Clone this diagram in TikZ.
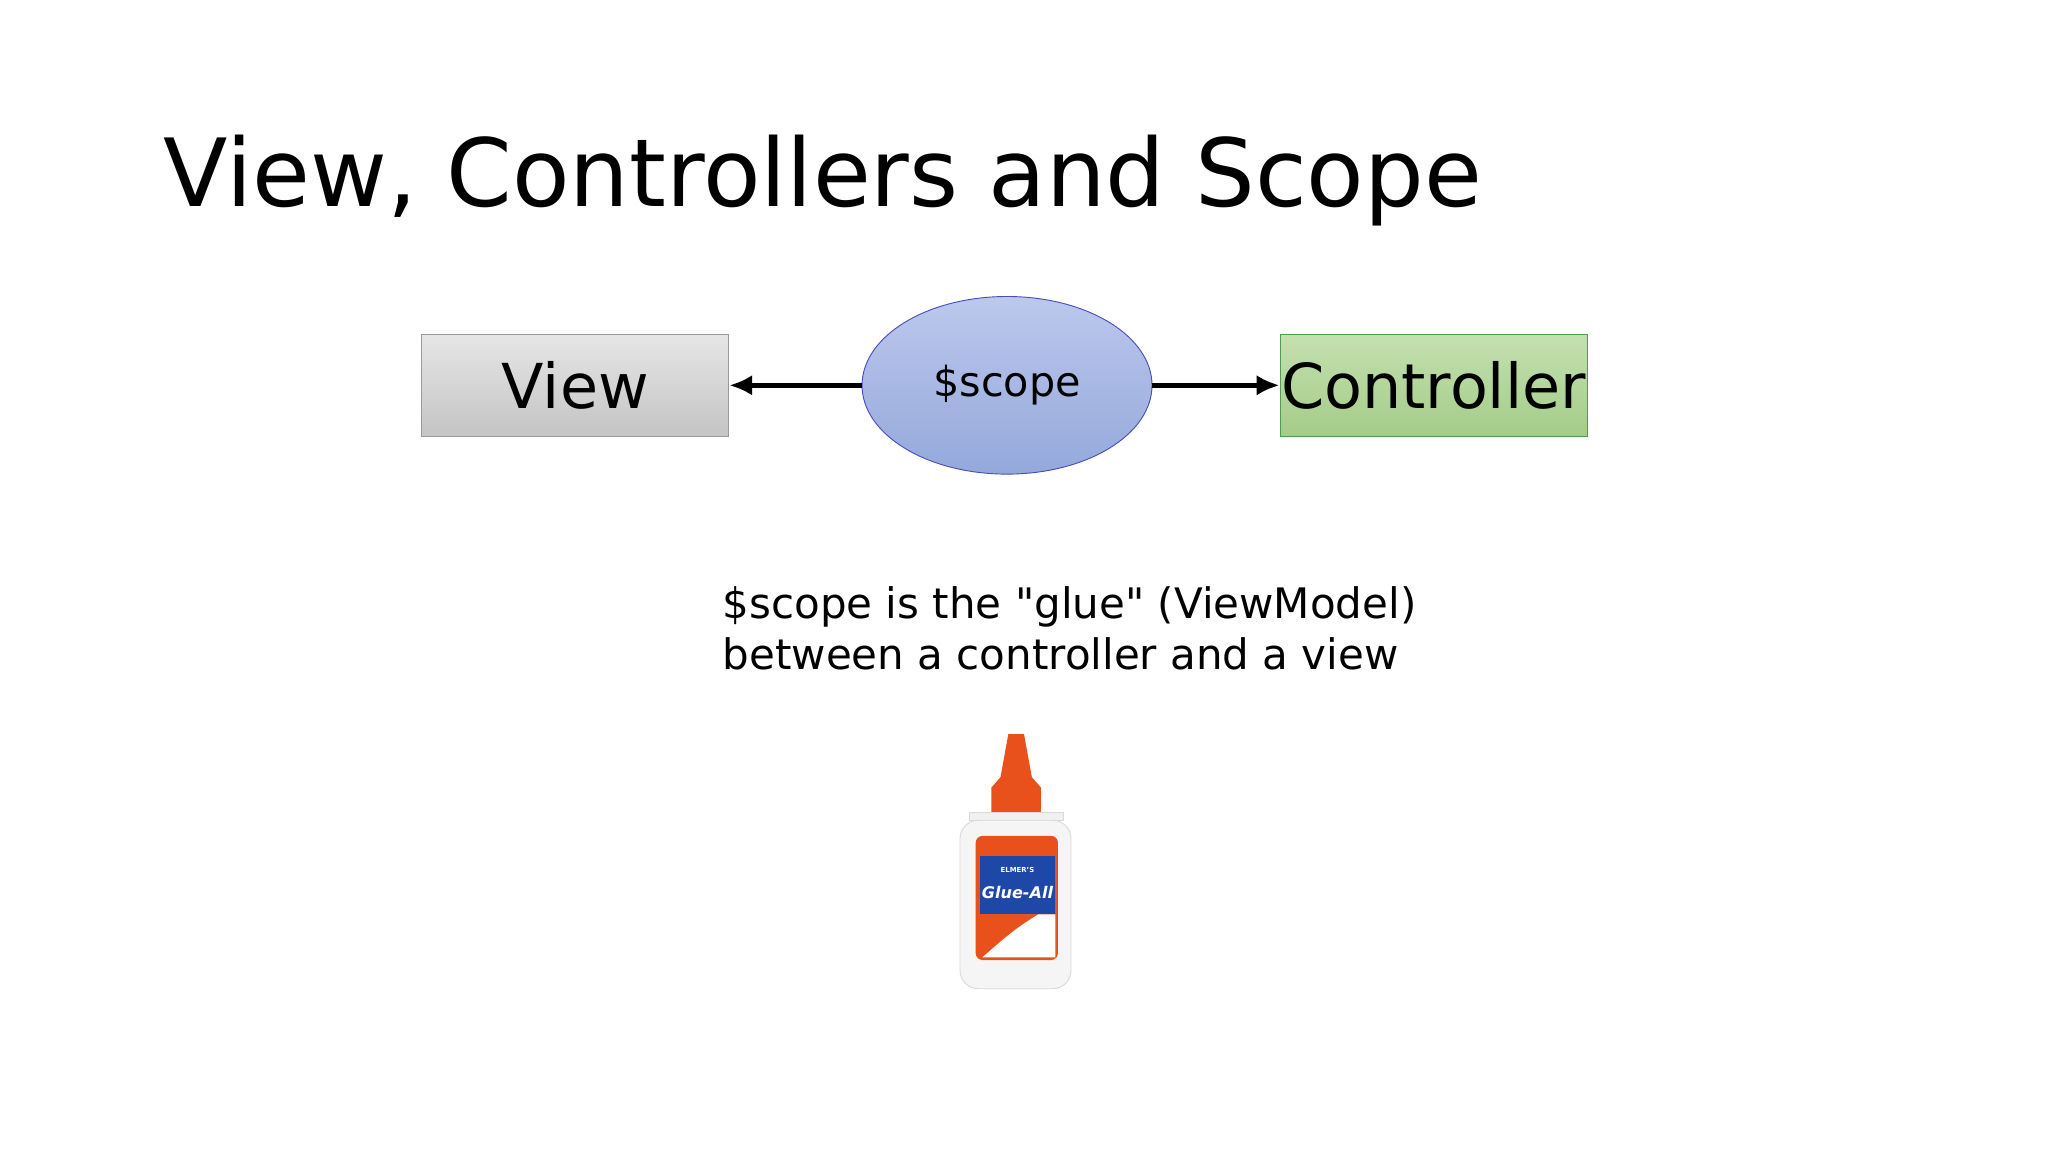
\documentclass[tikz,border=0pt]{standalone}
\usepackage{fontspec}
\setmainfont{DejaVu Sans}
\newfontfamily\plainfont{DejaVu Sans}
\usetikzlibrary{shapes.geometric,arrows.meta}
\definecolor{vtop}{HTML}{E6E6E6}\definecolor{vbot}{HTML}{C4C4C4}
\definecolor{stop}{HTML}{BCC8EC}\definecolor{sbot}{HTML}{94A8DC}
\definecolor{ctop}{HTML}{C4E0B0}\definecolor{cbot}{HTML}{A4CC88}
\definecolor{orng}{HTML}{E8501C}\definecolor{lblue}{HTML}{1E48A8}
\tikzset{
 box/.style={draw=black!40, minimum width=235*0.02cm, minimum height=78*0.02cm, inner sep=0pt, font=\fontsize{27}{30}\selectfont},
 arr/.style={-{Latex[length=10pt,width=9pt]}, line width=2.2pt},
}
\begin{document}
\begin{tikzpicture}[x=0.02cm,y=-0.02cm]
\useasboundingbox (0,0) rectangle (1568,882);
\fill[white] (0,0) rectangle (1568,882);
\node[anchor=base west, font=\fontsize{41}{45}\selectfont, inner sep=0pt] (title) at (125,158) {View, Controllers and Scope};
\node[box, top color=vtop, bottom color=vbot] (view) at (440.5,295) {View};
\node[box, draw=green!45!black!70, top color=ctop, bottom color=cbot] (ctrl) at (1097.5,295) {Controller};
\node[ellipse, draw=blue!60!black!70, top color=stop, bottom color=sbot, minimum width=222*0.02cm, minimum height=136*0.02cm, inner sep=0pt, font=\fontsize{18}{20}\selectfont] (scope) at (771,295) {\raisebox{-2pt}{\$scope}};
\draw[arr] (scope.west) -- (view.east);
\draw[arr] (scope.east) -- (ctrl.west);
\node[anchor=north west, align=left, inner sep=0pt, font=\plainfont\fontsize{18.3}{22}\selectfont] (desc) at (553,449) {\$scope is the "glue" (ViewModel)\\between a controller and a view};
% glue bottle
\fill[orng] (772,562) -- (784,562) -- (790,595) -- (797,603) -- (797,622) -- (759,622) -- (759,603) -- (766,595) -- cycle;
\fill[black!6, draw=black!15] (742,622) rectangle (814,628);
\fill[black!4, draw=black!15, rounded corners=8pt] (735,628) rectangle (820,757);
\fill[orng, rounded corners=3pt] (747,640) rectangle (810,735);
\fill[lblue] (750,655) rectangle (808,700);
\fill[white] (795,700) .. controls (775,712) and (765,722) .. (752,733) -- (808,733) -- (808,700) -- cycle;
\node[font=\bfseries\itshape\fontsize{7}{8}\selectfont, text=white, inner sep=0pt] (brand) at (779,683) {Glue-All};
\node[font=\bfseries\fontsize{3}{4}\selectfont, text=white, inner sep=0pt] (elm) at (779,666) {ELMER'S};
\end{tikzpicture}
\end{document}
